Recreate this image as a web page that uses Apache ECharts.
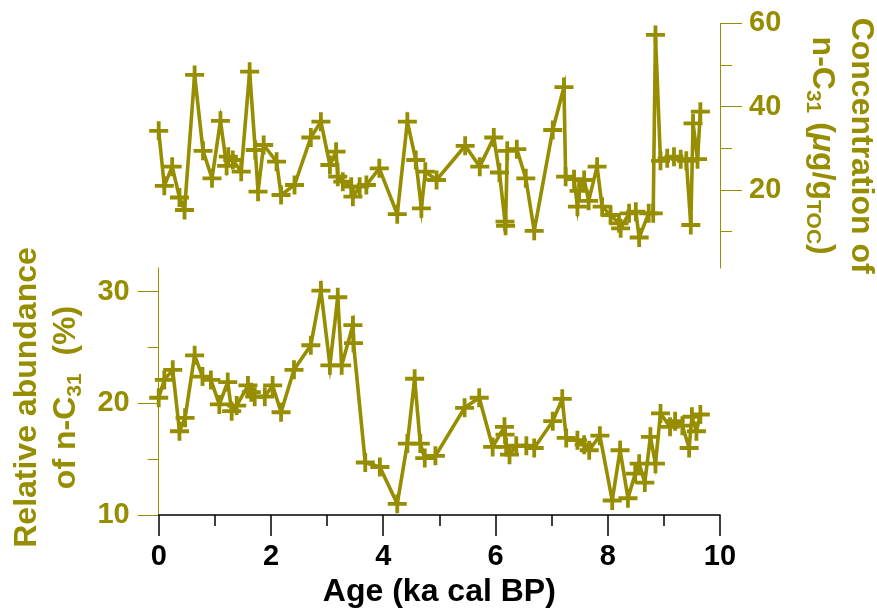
<!DOCTYPE html>
<html><head><meta charset="utf-8">
<script src="https://cdn.jsdelivr.net/npm/echarts@6/dist/echarts.min.js"></script>
<style>html,body{margin:0;padding:0;background:#fff}#c{width:877px;height:609px}</style>
</head><body><div id="c"></div>
<script>
// Top panel: concentration of n-C31 (µg/gTOC)
const ageTop=[0.00,0.10,0.24,0.37,0.46,0.64,0.79,0.95,1.10,1.21,1.24,1.32,1.47,1.62,1.72,1.77,1.87,2.10,2.18,2.42,2.71,2.89,3.05,3.16,3.19,3.28,3.43,3.46,3.58,3.70,3.93,4.25,4.43,4.58,4.68,4.75,4.95,5.46,5.72,5.97,6.07,6.17,6.18,6.21,6.38,6.54,6.69,7.02,7.22,7.25,7.40,7.46,7.49,7.58,7.66,7.81,7.90,8.05,8.20,8.23,8.38,8.50,8.56,8.73,8.81,8.85,8.94,9.06,9.18,9.30,9.40,9.48,9.52,9.60,9.65];
const valTop=[34.2,21.0,25.6,18.2,15.2,47.6,29.4,22.8,36.6,25.8,28.0,27.2,24.4,48.4,29.6,19.6,30.8,26.8,18.8,21.2,32.6,36.4,26.0,29.2,23.2,22.0,20.8,18.4,20.8,21.2,25.2,14.2,36.4,27.2,15.6,24.4,22.4,30.6,25.6,32.6,24.2,12.4,11.4,29.4,29.8,22.8,10.2,34.4,44.7,23.2,22.6,16.0,19.8,22.4,17.4,25.6,16.0,14.0,12.0,10.8,14.4,14.8,8.6,14.4,14.4,57.2,27.0,27.6,28.0,27.4,27.0,11.6,36.0,27.4,38.8];
// Bottom panel: relative abundance of n-C31 (%)
const ageBot=[0.00,0.10,0.25,0.37,0.47,0.64,0.78,0.93,1.08,1.23,1.30,1.39,1.59,1.65,1.71,1.89,2.03,2.18,2.41,2.71,2.89,3.05,3.19,3.26,3.46,3.47,3.68,3.94,4.25,4.43,4.56,4.66,4.74,4.93,5.45,5.71,5.95,6.16,6.17,6.19,6.25,6.37,6.55,6.69,7.02,7.19,7.26,7.46,7.58,7.67,7.86,8.08,8.22,8.36,8.49,8.56,8.66,8.76,8.85,8.94,9.11,9.20,9.33,9.45,9.50,9.58,9.65];
const valBot=[20.5,22.1,23.0,17.5,18.7,24.3,22.4,22.1,19.9,21.9,19.3,19.8,21.6,21.0,20.6,20.6,21.6,19.2,23.0,25.2,30.1,23.4,29.5,23.4,27.0,25.4,14.7,14.3,11.0,16.4,22.2,16.4,15.1,15.3,19.6,20.5,16.1,17.9,17.2,16.1,15.4,16.2,16.2,16.0,18.4,20.4,16.9,16.7,16.3,15.8,17.1,11.3,15.8,11.5,13.7,14.6,12.9,17.0,14.6,19.1,17.9,18.4,18.0,16.0,18.8,17.5,19.0];
// Tick positions
const xMajorTicks=[0,2,4,6,8,10];
const xMinorTicks=[1,3,5,7,9];
const botMajorTicks=[10,20,30];
const botMinorTicks=[15,25];
const topMajorTicks=[20,40,60];
const topMinorTicks=[10,30,50];

const OLIVE='#968D00';
const FONT='Liberation Sans';
const plus='path://M40,0H60V40H100V60H60V100H40V60H0V40H40Z';
const L=158.7, W=561.3;
const chart=echarts.init(document.getElementById('c'));
const nameRich={
  a:{fontSize:32,fontWeight:'bold',fontFamily:FONT,color:OLIVE,lineHeight:39},
  s:{fontSize:21,fontWeight:'bold',fontFamily:FONT,color:OLIVE,lineHeight:16,verticalAlign:'bottom'},
  i:{fontSize:32,fontWeight:'bold',fontStyle:'italic',fontFamily:FONT,color:OLIVE,lineHeight:39}
};
const lblOlive={color:OLIVE,fontSize:29,fontWeight:'bold',fontFamily:FONT};
chart.setOption({
  animation:false,
  grid:[
    {left:L,width:W,top:268,height:247,containLabel:false,outerBoundsMode:'none'},
    {left:L,width:W,top:23.3,height:244.7,containLabel:false,outerBoundsMode:'none'}
  ],
  xAxis:[
    {gridIndex:0,type:'value',position:'bottom',min:0,max:10,
     axisLine:{show:true,onZero:false,lineStyle:{color:'#000',width:1.5}},
     axisTick:{show:true,customValues:xMajorTicks,length:21,lineStyle:{color:'#000',width:1.5}},
     axisLabel:{customValues:xMajorTicks,color:'#000',fontSize:29,fontWeight:'bold',fontFamily:FONT,margin:27},
     splitLine:{show:false},
     name:'Age (ka cal BP)',nameLocation:'middle',nameGap:61,
     nameTextStyle:{color:'#000',fontSize:32,fontWeight:'bold',fontFamily:FONT}},
    {gridIndex:0,type:'value',position:'bottom',min:0,max:10,
     axisLine:{show:false,onZero:false},
     axisTick:{show:true,customValues:xMinorTicks,length:11,lineStyle:{color:'#000',width:1.5}},
     axisLabel:{show:false},splitLine:{show:false}},
    {gridIndex:1,type:'value',position:'bottom',min:0,max:10,show:false,splitLine:{show:false}}
  ],
  yAxis:[
    {gridIndex:0,type:'value',position:'left',min:10,max:32.12,
     axisLine:{show:true,onZero:false,lineStyle:{color:OLIVE,width:1}},
     axisTick:{show:true,customValues:botMajorTicks,length:21,lineStyle:{color:OLIVE,width:1}},
     axisLabel:Object.assign({customValues:botMajorTicks,margin:29},lblOlive),
     splitLine:{show:false},
     name:'{a|Relative abundance}\n{a|of n-C}{s|31}{a|  (%)}',
     nameLocation:'middle',nameRotate:90,nameGap:73,
     nameTextStyle:{rich:nameRich,align:'center',padding:[0,12,0,0]}},
    {gridIndex:0,type:'value',position:'left',min:10,max:32.12,
     axisLine:{show:false,onZero:false},
     axisTick:{show:true,customValues:botMinorTicks,length:11,lineStyle:{color:OLIVE,width:1}},
     axisLabel:{show:false},splitLine:{show:false}},
    {gridIndex:1,type:'value',position:'right',min:1.28,max:60,
     axisLine:{show:true,onZero:false,lineStyle:{color:OLIVE,width:1}},
     axisTick:{show:true,customValues:topMajorTicks,length:22,lineStyle:{color:OLIVE,width:1}},
     axisLabel:Object.assign({customValues:topMajorTicks,margin:29},lblOlive),
     splitLine:{show:false},
     name:'{a|Concentration of}\n{a|n-C}{s|31}{a| (}{i|\u03bc}{a|g/g}{s|TOC}{a|)}',
     nameLocation:'middle',nameRotate:-90,nameGap:82,
     nameTextStyle:{rich:nameRich,align:'center'}},
    {gridIndex:1,type:'value',position:'right',min:1.28,max:60,
     axisLine:{show:false,onZero:false},
     axisTick:{show:true,customValues:topMinorTicks,length:12,lineStyle:{color:OLIVE,width:1}},
     axisLabel:{show:false},splitLine:{show:false}}
  ],
  series:[
    {type:'line',xAxisIndex:0,yAxisIndex:0,data:ageBot.map((a,i)=>[a,valBot[i]]),
     symbol:plus,symbolSize:19,showAllSymbol:true,clip:false,
     lineStyle:{color:OLIVE,width:3.6,join:'miter',miterLimit:10},
     itemStyle:{color:OLIVE}},
    {type:'line',xAxisIndex:2,yAxisIndex:2,data:ageTop.map((a,i)=>[a,valTop[i]]),
     symbol:plus,symbolSize:19,showAllSymbol:true,clip:false,
     lineStyle:{color:OLIVE,width:3.6,join:'miter',miterLimit:10},
     itemStyle:{color:OLIVE}}
  ]
});
</script></body></html>
